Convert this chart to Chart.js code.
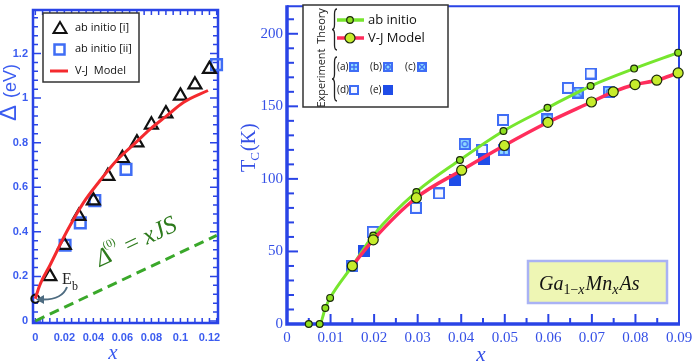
<!DOCTYPE html>
<html>
<head>
<meta charset="utf-8">
<script src="https://cdn.jsdelivr.net/npm/chart.js@4.4.0/dist/chart.umd.min.js"></script>
<style>
  html, body { margin:0; padding:0; background:#fff; }
  #wrap { position:relative; width:692px; height:363px; overflow:hidden; }
  canvas { position:absolute; top:0; }
  #cL { left:0; }
  #cR { left:240px; }
</style>
</head>
<body>
<div id="wrap">
  <canvas id="cL" width="240" height="363"></canvas>
  <canvas id="cR" width="452" height="363"></canvas>
</div>
<script>
// ---- left panel: gap Delta vs x ----
const triX = [0.01, 0.02, 0.03, 0.04, 0.05, 0.06, 0.07, 0.08, 0.09, 0.10, 0.11, 0.12];
const triY = [0.20, 0.34, 0.47, 0.54, 0.65, 0.73, 0.80, 0.88, 0.93, 1.01, 1.06, 1.13];
const sqX  = [0.0205, 0.031, 0.041, 0.0625, 0.1249];
const sqY  = [0.34, 0.44, 0.54, 0.68, 1.15];
const vjX  = [0, 0.003, 0.0101, 0.0216, 0.0331, 0.0446, 0.056, 0.0675, 0.079, 0.0905, 0.102, 0.119];
const vjY  = [0.10, 0.16, 0.25, 0.40, 0.53, 0.63, 0.72, 0.79, 0.86, 0.92, 0.98, 1.034];
const dashX = [0, 0.125];
const dashY = [0, 0.384];
const ebX = [0];
const ebY = [0.10];
const xTicksL = [0, 0.02, 0.04, 0.06, 0.08, 0.1, 0.12];
const yTicksL = [0, 0.2, 0.4, 0.6, 0.8, 1, 1.2];

// ---- right panel: Tc vs x ----
const abX  = [0.005, 0.0075, 0.0088, 0.0099, 0.015, 0.0198, 0.0297, 0.0397, 0.0497, 0.0598, 0.0697, 0.0797, 0.0898];
const abY  = [0, 0, 11, 18, 40, 61, 91, 113, 133, 149, 164, 176, 187];
const vjRX = [0.015, 0.0198, 0.0297, 0.0401, 0.0499, 0.0599, 0.0699, 0.0749, 0.0799, 0.0849, 0.0898];
const vjRY = [40, 58, 87, 106, 123, 139, 153, 160, 165, 168, 173];
const expAX = [0.0498, 0.0598];
const expAY = [120, 141];
const expBX = [0.0408, 0.0739];
const expBY = [124, 160];
const expCX = [0.0667];
const expCY = [159.5];
const expDX = [0.015, 0.0197, 0.0296, 0.0349, 0.0448, 0.0496, 0.0645, 0.0697];
const expDY = [40, 63.5, 80, 90, 120, 140.6, 162.7, 172.6];
const expEX = [0.0177, 0.0385, 0.0452];
const expEY = [50.6, 99.4, 114];
const xTicksR = [0, 0.01, 0.02, 0.03, 0.04, 0.05, 0.06, 0.07, 0.08, 0.09];
const yTicksR = [0, 50, 100, 150, 200];

const pts = (xs, ys) => xs.map((x, i) => ({x, y: ys[i]}));

const AXBLUE = '#2a44e6';
const LBLBLUE = '#3b5cf0';
const REDL = '#f42a2e';
const GREEN = '#77e62e';
const REDR = '#ff2d5c';
const MKBLUE = '#3f6df5';
const CYAN = '#8fdcff';

// experiment marker (square variants)
function drawExp(ctx, type, cx, cy, s){
  const h = s / 2;
  ctx.save();
  ctx.fillStyle = type === 'd' ? '#f6f7ff' : type === 'e' ? '#1f4de8' : CYAN;
  ctx.fillRect(cx - h, cy - h, s, s);
  ctx.strokeStyle = type === 'e' ? '#1f4de8' : MKBLUE;
  ctx.lineWidth = 2;
  ctx.strokeRect(cx - h + 1, cy - h + 1, s - 2, s - 2);
  ctx.lineWidth = 1.4;
  if (type === 'a') {
    ctx.beginPath();
    ctx.moveTo(cx, cy - h + 1); ctx.lineTo(cx, cy + h - 1);
    ctx.moveTo(cx - h + 1, cy); ctx.lineTo(cx + h - 1, cy);
    ctx.stroke();
  } else if (type === 'b') {
    ctx.beginPath(); ctx.arc(cx, cy, s * 0.22, 0, Math.PI * 2); ctx.stroke();
  } else if (type === 'c') {
    ctx.beginPath();
    ctx.moveTo(cx - h + 2, cy - h + 2); ctx.lineTo(cx + h - 2, cy + h - 2);
    ctx.moveTo(cx + h - 2, cy - h + 2); ctx.lineTo(cx - h + 2, cy + h - 2);
    ctx.stroke();
  }
  ctx.restore();
}
function mkImg(type, s){
  const c = document.createElement('canvas');
  c.width = s; c.height = s;
  drawExp(c.getContext('2d'), type, s / 2, s / 2, s);
  return c;
}
function brace(ctx, x, y1, y2, w){
  const m = (y1 + y2) / 2;
  ctx.beginPath();
  ctx.moveTo(x + w, y1);
  ctx.quadraticCurveTo(x + w / 2, y1, x + w / 2, y1 + w);
  ctx.lineTo(x + w / 2, m - w);
  ctx.quadraticCurveTo(x + w / 2, m, x, m);
  ctx.quadraticCurveTo(x + w / 2, m, x + w / 2, m + w);
  ctx.lineTo(x + w / 2, y2 - w);
  ctx.quadraticCurveTo(x + w / 2, y2, x + w, y2);
  ctx.stroke();
}

// ---------- left decorations ----------
const leftDeco = {
  id: 'leftDeco',
  beforeDatasetsDraw(chart){
    const {ctx, chartArea: a, scales: {x, y}} = chart;
    ctx.save();
    ctx.strokeStyle = AXBLUE;
    ctx.lineWidth = 1.5;
    for (let k = 0; k <= 25; k++) {
      const px = x.getPixelForValue(k * 0.005);
      ctx.beginPath();
      ctx.moveTo(px, a.bottom); ctx.lineTo(px, a.bottom - 5);
      ctx.moveTo(px, a.top); ctx.lineTo(px, a.top + 5);
      ctx.stroke();
    }
    for (let k = 0; k <= 34; k++) {
      const py = y.getPixelForValue(k * 0.04);
      const len = k % 5 === 0 ? 8 : 5;
      ctx.beginPath();
      ctx.moveTo(a.left, py); ctx.lineTo(a.left + len, py);
      ctx.moveTo(a.right, py); ctx.lineTo(a.right - len, py);
      ctx.stroke();
    }
    ctx.lineWidth = 2.5;
    ctx.strokeRect(a.left, a.top, a.right - a.left, a.bottom - a.top);
    ctx.restore();
  },
  afterDraw(chart){
    const {ctx, scales: {x, y}} = chart;
    ctx.save();
    // legend
    ctx.fillStyle = '#fff';
    ctx.fillRect(43, 13, 96, 69);
    ctx.strokeStyle = '#333';
    ctx.lineWidth = 1.5;
    ctx.strokeRect(43, 13, 96, 69);
    ctx.strokeStyle = '#111'; ctx.lineWidth = 2;
    ctx.beginPath();
    ctx.moveTo(60, 22); ctx.lineTo(66.5, 33); ctx.lineTo(53.5, 33); ctx.closePath();
    ctx.stroke();
    ctx.strokeStyle = MKBLUE; ctx.lineWidth = 2.5;
    ctx.strokeRect(54.5, 44.5, 10, 10);
    ctx.strokeStyle = REDL; ctx.lineWidth = 3;
    ctx.beginPath(); ctx.moveTo(50, 71); ctx.lineTo(68, 71); ctx.stroke();
    ctx.fillStyle = '#111';
    ctx.font = '11px "Open Sans"';
    ctx.textBaseline = 'middle';
    ctx.fillText('ab initio [i]', 75, 28);
    ctx.fillText('ab initio [ii]', 75, 49);
    ctx.fillText('V-J  Model', 75, 71);

    // Delta^(0) = xJS along dashed line
    const x0 = x.getPixelForValue(dashX[0]), y0 = y.getPixelForValue(dashY[0]);
    const x1 = x.getPixelForValue(dashX[1]), y1 = y.getPixelForValue(dashY[1]);
    const ang = Math.atan2(y0 - y1, x1 - x0);
    ctx.translate(100, 267);
    ctx.rotate(-ang);
    ctx.fillStyle = '#2d7a1c';
    ctx.textBaseline = 'alphabetic';
    ctx.font = 'italic 25px "Liberation Serif"';
    ctx.fillText('Δ', 0, 0);
    let w = ctx.measureText('Δ').width;
    ctx.font = '11px "Liberation Serif"';
    ctx.fillText('(0)', w - 3, -14);
    w += ctx.measureText('(0)').width - 2;
    ctx.font = '25px "Liberation Serif"';
    ctx.fillText(' = ', w, 0);
    w += ctx.measureText(' = ').width;
    ctx.font = 'italic 25px "Liberation Serif"';
    ctx.fillText('xJS', w, 0);
    ctx.setTransform(1, 0, 0, 1, 0, 0);

    // E_b with arrow
    ctx.fillStyle = '#222';
    ctx.font = '16px "Liberation Serif"';
    ctx.fillText('E', 62, 284);
    ctx.font = '12px "Liberation Serif"';
    ctx.fillText('b', 72, 290);
    ctx.strokeStyle = '#4d6b80'; ctx.lineWidth = 2;
    ctx.beginPath();
    ctx.moveTo(67, 287);
    ctx.quadraticCurveTo(62, 300, 42, 299.5);
    ctx.stroke();
    ctx.fillStyle = '#4d6b80';
    ctx.beginPath();
    ctx.moveTo(36, 299.5); ctx.lineTo(44, 295); ctx.lineTo(44, 304); ctx.closePath();
    ctx.fill();

    // axis titles
    ctx.fillStyle = LBLBLUE;
    ctx.save();
    ctx.translate(16, 121);
    ctx.rotate(-Math.PI / 2);
    ctx.font = '24px "Liberation Sans"';
    ctx.fillText('Δ', 0, 0);
    ctx.font = '18px "Liberation Sans"';
    ctx.fillText('(eV)', 23, 0);
    ctx.restore();
    ctx.font = 'italic 21px "Liberation Serif"';
    ctx.textAlign = 'center';
    ctx.fillText('x', 113, 359);
    ctx.restore();
  }
};

new Chart(document.getElementById('cL'), {
  type: 'scatter',
  data: {
    datasets: [
      { label: 'V-J Model', data: pts(vjX, vjY), showLine: true, borderColor: REDL, borderWidth: 3,
        pointRadius: 0, cubicInterpolationMode: 'monotone', clip: false },
      { label: 'ab initio [i]', data: pts(triX, triY), pointStyle: 'triangle', pointRadius: 7.5,
        borderColor: '#111', borderWidth: 2.2, backgroundColor: 'rgba(0,0,0,0)', clip: false },
      { label: 'ab initio [ii]', data: pts(sqX, sqY), pointStyle: 'rect', pointRadius: 7.5,
        borderColor: MKBLUE, borderWidth: 2.5, backgroundColor: 'rgba(0,0,0,0)', clip: false },
      { label: 'Eb', data: pts(ebX, ebY), pointStyle: 'circle', pointRadius: 4,
        borderColor: '#111', borderWidth: 2, backgroundColor: 'rgba(0,0,0,0)', clip: false },
      { label: 'xJS', data: pts(dashX, dashY), showLine: true, borderColor: '#3aa82a', borderWidth: 3,
        borderDash: [10, 6], pointRadius: 0, clip: false }
    ]
  },
  options: {
    responsive: false, animation: false, events: [],
    layout: { padding: { top: 2, right: 22, left: 0, bottom: 0 } },
    plugins: { legend: { display: false }, tooltip: { enabled: false } },
    scales: {
      x: {
        type: 'linear', min: -0.0016, max: 0.1259,
        afterBuildTicks: s => { s.ticks = xTicksL.map(v => ({value: v})); },
        afterFit: s => { s.height = 40; s.paddingLeft = 0; s.paddingRight = 0; },
        grid: { display: false, drawTicks: false }, border: { display: false },
        ticks: { padding: 8, autoSkip: false, maxRotation: 0, color: LBLBLUE,
          font: { family: '"Liberation Sans"', weight: 'bold', size: 11 },
          callback: v => String(+v.toFixed(2)) }
      },
      y: {
        type: 'linear', min: -0.009, max: 1.395,
        afterBuildTicks: s => { s.ticks = yTicksL.map(v => ({value: v})); },
        afterFit: s => { s.width = 33; s.paddingTop = 0; s.paddingBottom = 0; },
        grid: { display: false, drawTicks: false }, border: { display: false },
        ticks: { padding: 5, autoSkip: false, color: LBLBLUE,
          font: { family: '"Liberation Sans"', weight: 'bold', size: 11 },
          callback: v => String(+v.toFixed(2)) }
      }
    }
  },
  plugins: [leftDeco]
});

// ---------- right decorations ----------
const rightDeco = {
  id: 'rightDeco',
  beforeDatasetsDraw(chart){
    const {ctx, chartArea: a, scales: {x, y}} = chart;
    ctx.save();
    ctx.strokeStyle = AXBLUE;
    ctx.lineWidth = 2;
    for (let k = 1; k <= 18; k++) {
      const px = x.getPixelForValue(k * 0.005);
      const len = k % 2 === 0 ? 10 : 6;
      ctx.beginPath(); ctx.moveTo(px, a.bottom); ctx.lineTo(px, a.bottom - len); ctx.stroke();
    }
    for (let k = 1; k <= 21; k++) {
      const py = y.getPixelForValue(k * 10);
      const len = k % 5 === 0 ? 11 : 7;
      ctx.beginPath(); ctx.moveTo(a.left, py); ctx.lineTo(a.left + len, py); ctx.stroke();
    }
    ctx.lineWidth = 2;
    ctx.beginPath();
    ctx.moveTo(a.left, a.top); ctx.lineTo(a.right, a.top); ctx.lineTo(a.right, a.bottom);
    ctx.stroke();
    ctx.lineWidth = 3.5;
    ctx.beginPath();
    ctx.moveTo(a.left, a.top - 1); ctx.lineTo(a.left, a.bottom); ctx.lineTo(a.right + 1, a.bottom);
    ctx.stroke();
    ctx.restore();
  },
  afterDraw(chart){
    const {ctx} = chart;
    ctx.save();
    // legend box
    ctx.fillStyle = '#fff';
    ctx.fillRect(63, 5, 145, 102);
    ctx.strokeStyle = '#333'; ctx.lineWidth = 1.5;
    ctx.strokeRect(63, 5, 145, 102);
    ctx.fillStyle = '#222';
    ctx.font = '11px "Open Sans"';
    ctx.textAlign = 'center'; ctx.textBaseline = 'middle';
    ctx.save(); ctx.translate(82, 26); ctx.rotate(-Math.PI / 2); ctx.fillText('Theory', 0, 0); ctx.restore();
    ctx.save(); ctx.translate(82, 78); ctx.rotate(-Math.PI / 2); ctx.fillText('Experiment', 0, 0); ctx.restore();
    ctx.strokeStyle = '#222'; ctx.lineWidth = 1.3;
    brace(ctx, 92, 9, 50, 5);
    brace(ctx, 92, 57, 101, 5);
    // theory entries
    ctx.lineWidth = 3.5;
    ctx.strokeStyle = GREEN;
    ctx.beginPath(); ctx.moveTo(97, 20); ctx.lineTo(124, 20); ctx.stroke();
    ctx.strokeStyle = REDR;
    ctx.beginPath(); ctx.moveTo(97, 38); ctx.lineTo(124, 38); ctx.stroke();
    ctx.strokeStyle = '#1a2a0a'; ctx.lineWidth = 1.2;
    ctx.fillStyle = '#8fe020';
    ctx.beginPath(); ctx.arc(110, 20, 3.3, 0, Math.PI * 2); ctx.fill(); ctx.stroke();
    ctx.fillStyle = '#c6ec2c';
    ctx.beginPath(); ctx.arc(110, 38, 5, 0, Math.PI * 2); ctx.fill(); ctx.stroke();
    ctx.fillStyle = '#111';
    ctx.textAlign = 'left';
    ctx.font = '13px "Open Sans"';
    ctx.fillText('ab initio', 128, 20);
    ctx.fillText('V-J Model', 128, 38);
    // experiment entries
    ctx.font = '10px "Open Sans"';
    ctx.fillText('(a)', 97, 67); drawExp(ctx, 'a', 114, 67, 10);
    ctx.fillText('(b)', 130, 67); drawExp(ctx, 'b', 148, 67, 10);
    ctx.fillText('(c)', 165, 67); drawExp(ctx, 'c', 182, 67, 10);
    ctx.fillText('(d)', 97, 90); drawExp(ctx, 'd', 114, 90, 10);
    ctx.fillText('(e)', 130, 90); drawExp(ctx, 'e', 148, 90, 10);

    // compound label box
    ctx.fillStyle = '#eef6b4';
    ctx.fillRect(288, 261, 139, 42);
    ctx.strokeStyle = '#a9b2f4'; ctx.lineWidth = 2.5;
    ctx.strokeRect(288, 261, 139, 42);
    ctx.fillStyle = '#111';
    ctx.textBaseline = 'alphabetic';
    let cx = 299;
    const seg = (t, f, dy) => { ctx.font = f; ctx.fillText(t, cx, 290 + dy); cx += ctx.measureText(t).width; };
    seg('Ga', 'italic 20px "Liberation Serif"', 0);
    seg('1−', '14px "Liberation Serif"', 4);
    seg('x', 'italic 14px "Liberation Serif"', 4);
    cx += 1;
    seg('Mn', 'italic 20px "Liberation Serif"', 0);
    seg('x', 'italic 14px "Liberation Serif"', 4);
    cx += 1;
    seg('As', 'italic 20px "Liberation Serif"', 0);

    // axis titles
    ctx.fillStyle = '#3550e6';
    ctx.save();
    ctx.translate(15, 172);
    ctx.rotate(-Math.PI / 2);
    ctx.font = '20px "Liberation Serif"';
    ctx.fillText('T', 0, 0);
    let w = ctx.measureText('T').width;
    ctx.font = '13px "Liberation Serif"';
    ctx.fillText('C', w - 1, 4);
    w += ctx.measureText('C').width;
    ctx.font = '20px "Liberation Serif"';
    ctx.fillText('(K)', w, 0);
    ctx.restore();
    ctx.font = 'italic 21px "Liberation Serif"';
    ctx.textAlign = 'center';
    ctx.fillText('x', 241, 361);
    ctx.restore();
  }
};

const imgA = mkImg('a', 12), imgB = mkImg('b', 12), imgC = mkImg('c', 12), imgD = mkImg('d', 12), imgE = mkImg('e', 12);

new Chart(document.getElementById('cR'), {
  type: 'scatter',
  data: {
    datasets: [
      { label: 'V-J Model', data: pts(vjRX, vjRY), showLine: true, borderColor: REDR, borderWidth: 3.5,
        cubicInterpolationMode: 'monotone', pointStyle: 'circle', pointRadius: 5,
        pointBackgroundColor: '#c6ec2c', pointBorderColor: '#1a2a0a', pointBorderWidth: 1.2, clip: false },
      { label: 'ab initio', data: pts(abX, abY), showLine: true, borderColor: GREEN, borderWidth: 3,
        segment: { borderColor: c => c.p0DataIndex === 0 ? 'rgba(0,0,0,0)' : GREEN },
        cubicInterpolationMode: 'monotone', pointStyle: 'circle', pointRadius: 3.4,
        pointBackgroundColor: '#8fe020', pointBorderColor: '#1a2a0a', pointBorderWidth: 1.2, clip: false },
      { label: '(a)', data: pts(expAX, expAY), pointStyle: imgA, clip: false },
      { label: '(b)', data: pts(expBX, expBY), pointStyle: imgB, clip: false },
      { label: '(c)', data: pts(expCX, expCY), pointStyle: imgC, clip: false },
      { label: '(e)', data: pts(expEX, expEY), pointStyle: imgE, clip: false },
      { label: '(d)', data: pts(expDX, expDY), pointStyle: imgD, clip: false }
    ]
  },
  options: {
    responsive: false, animation: false, events: [],
    layout: { padding: { top: 2, right: 13, left: 0, bottom: 0 } },
    plugins: { legend: { display: false }, tooltip: { enabled: false } },
    scales: {
      x: {
        type: 'linear', min: 0, max: 0.09,
        afterBuildTicks: s => { s.ticks = xTicksR.map(v => ({value: v})); },
        afterFit: s => { s.height = 39; s.paddingLeft = 0; s.paddingRight = 0; },
        grid: { display: false, drawTicks: false }, border: { display: false },
        ticks: { padding: 5, autoSkip: false, maxRotation: 0, color: '#3550e6',
          font: { family: '"Liberation Serif"', size: 15 },
          callback: v => v === 0 ? '0' : v.toFixed(2) }
      },
      y: {
        type: 'linear', min: 0, max: 219,
        afterBuildTicks: s => { s.ticks = yTicksR.map(v => ({value: v})); },
        afterFit: s => { s.width = 47; s.paddingTop = 0; s.paddingBottom = 0; },
        grid: { display: false, drawTicks: false }, border: { display: false },
        ticks: { padding: 4, autoSkip: false, color: '#3550e6',
          font: { family: '"Liberation Serif"', size: 15 } }
      }
    }
  },
  plugins: [rightDeco]
});
</script>
</body>
</html>
